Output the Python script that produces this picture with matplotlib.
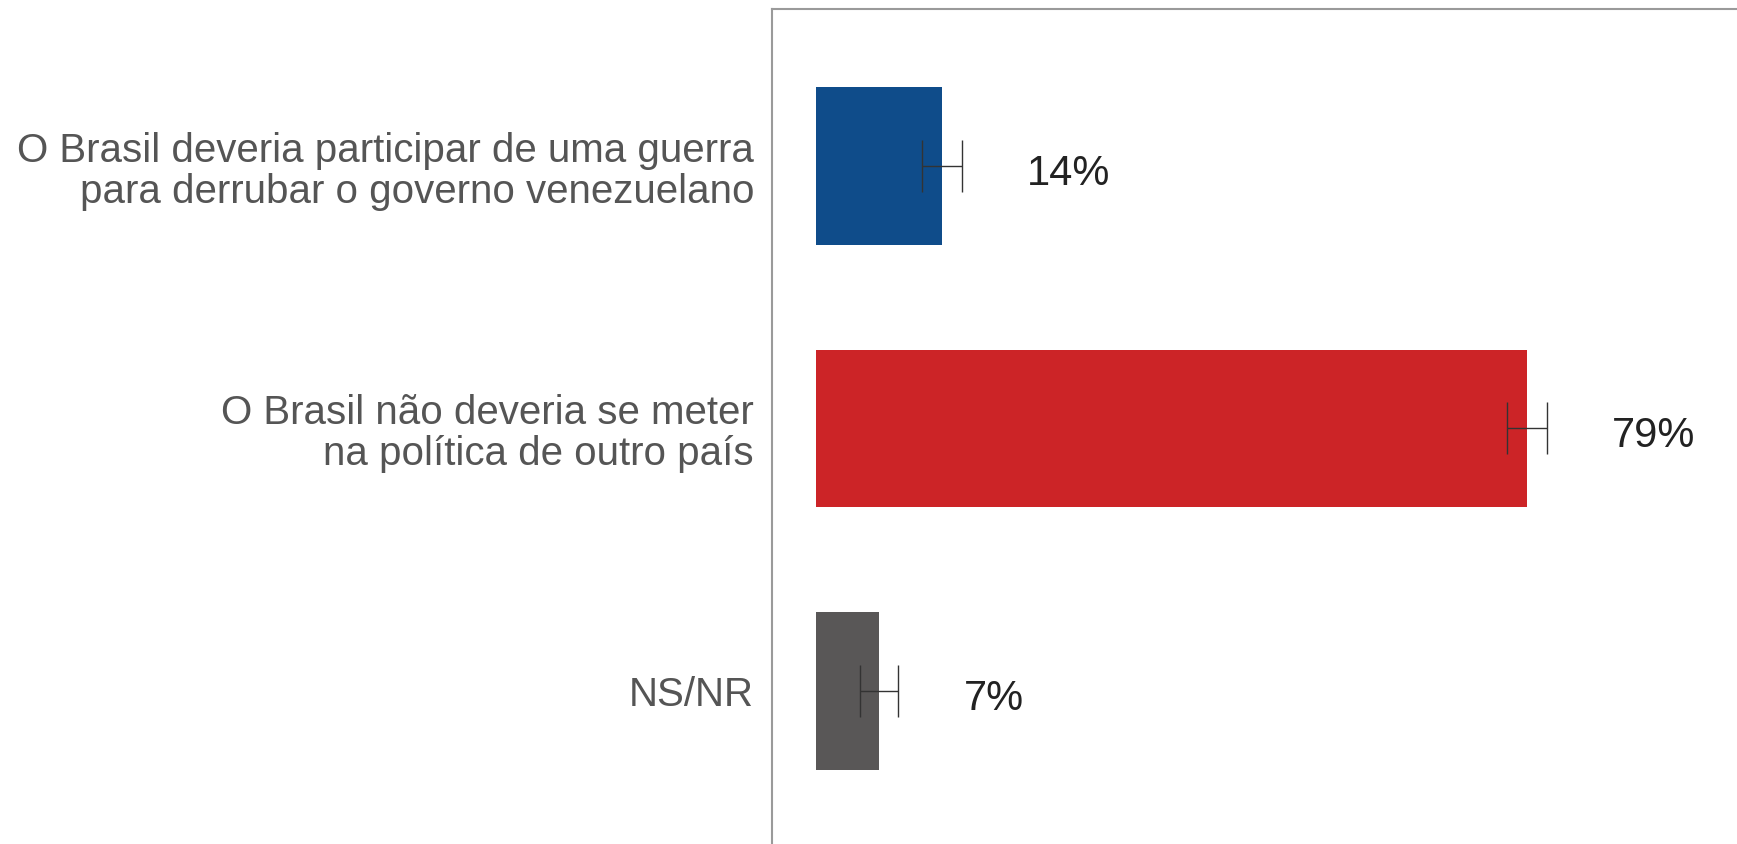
import numpy as np
import matplotlib.pyplot as plt

# survey answers, top to bottom
categories = [
    "O Brasil deveria participar de uma guerra\npara derrubar o governo venezuelano",
    "O Brasil não deveria se meter\nna política de outro país",
    "NS/NR",
]
values = [14, 79, 7]
errors = [2.2, 2.2, 2.1]
value_labels = ["14%", "79%", "7%"]
bar_colors = ["#0f4c8a", "#cc2427", "#595757"]

plt.rcParams['font.family'] = ['Liberation Sans', 'DejaVu Sans']

fig = plt.figure(figsize=(17.37, 8.44), dpi=100)
ax = fig.add_axes([0.4445, 0.0, 0.5555, 0.9893])

y = np.arange(len(values))
ax.barh(y, values, height=0.6, color=bar_colors)
ax.errorbar(values, y, xerr=errors, fmt='none', ecolor='#333333',
            elinewidth=1.0, capsize=19, capthick=1.0)

for yi, v, lab in zip(y, values, value_labels):
    ax.text(v + 9.4, yi + 0.03, lab, va='center', ha='left',
            fontsize=30, color='#222222')

ax.set_xlim(-4.9, 102.3)
ax.set_ylim(2.583, -0.598)
ax.set_yticks(y)
ax.set_yticklabels(categories, fontsize=29, color='#555555', linespacing=1.1)
ax.tick_params(axis='y', length=0, pad=13)
ax.set_xticks([])
for s in ['right', 'bottom']:
    ax.spines[s].set_visible(False)
for s in ['left', 'top']:
    ax.spines[s].set_color('#9a9a9a')
    ax.spines[s].set_linewidth(1.5)

fig.savefig('out.png', dpi=100)
